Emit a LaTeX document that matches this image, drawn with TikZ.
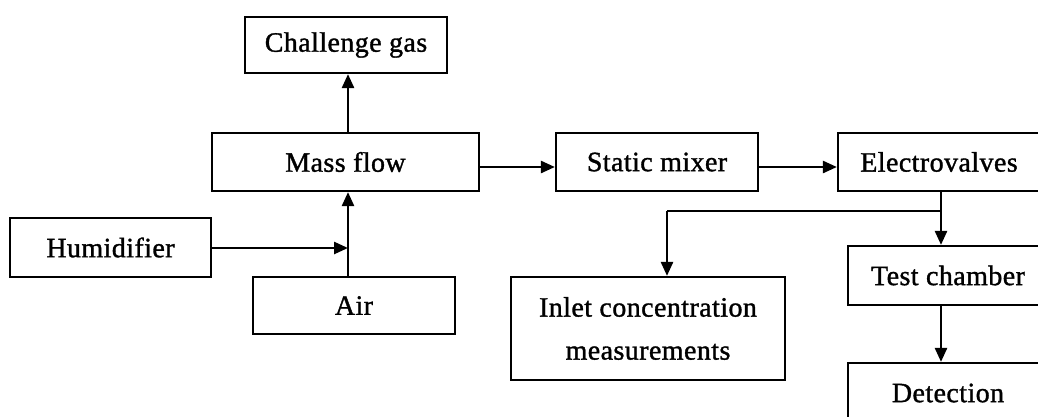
\documentclass[tikz,border=0pt]{standalone}
\usepackage{fontspec}
\setmainfont{Liberation Serif}
\newfontfamily\labelfont[FakeBold=1.2,LetterSpace=1.5]{Liberation Serif}
\usetikzlibrary{arrows.meta}
\tikzset{
  blk/.style={draw, line width=2.2pt, rectangle, inner sep=0pt, align=center,
    font=\labelfont\fontsize{28}{43}\selectfont},
  flow/.style={line width=2.5pt, -{Triangle[length=14pt,width=12pt]}},
  wire/.style={line width=2.5pt}
}
\begin{document}
\begin{tikzpicture}[x=1pt,y=-1pt]
  \useasboundingbox (0,0) rectangle (1038,416);
  \clip (0,0) rectangle (1038,416);
  \fill[white] (0,0) rectangle (1038,416);

  % process blocks
  \node[blk, minimum width=202pt, minimum height=56pt] (chal)   at (346,45)    {Challenge gas};
  \node[blk, minimum width=267pt, minimum height=58pt] (mass)   at (345.5,162) {Mass flow};
  \node[blk, minimum width=202pt, minimum height=58pt] (mixer)  at (657,162)   {Static mixer};
  \node[blk, minimum width=202pt, minimum height=58pt] (valves) at (939,162)   {Electrovalves};
  \node[blk, minimum width=201pt, minimum height=59pt] (humid)  at (110.5,247.5) {Humidifier};
  \node[blk, minimum width=202pt, minimum height=57pt] (air)    at (354,305.5) {Air};
  \node[blk, minimum width=274pt, minimum height=103pt] (inlet) at (648,328.5) {Inlet concentration\\measurements};
  \node[blk, minimum width=200pt, minimum height=59pt] (test)   at (948,275.5) {Test chamber};
  \node[blk, minimum width=200pt, minimum height=60pt] (detect) at (948,393)   {Detection};

  % helper points for the routing
  \coordinate (jx) at (348,248);
  \coordinate (hy) at (500,167);
  \coordinate (br) at (941,211);
  \coordinate (bl) at (667,211);

  % connectors
  \draw[flow] (air.north -| jx) -- (mass.south -| jx);
  \draw[flow] (humid.east |- jx) -- (jx);
  \draw[flow] (mass.north -| jx) -- (chal.south -| jx);
  \draw[flow] (mass.east |- hy) -- (mixer.west |- hy);
  \draw[flow] (mixer.east |- hy) -- (valves.west |- hy);
  \draw[flow] (valves.south -| br) -- (test.north -| br);
  \draw[wire] (br) -- (bl);
  \draw[flow] (bl) -- (inlet.north -| bl);
  \draw[flow] (test.south -| br) -- (detect.north -| br);
\end{tikzpicture}
\end{document}
